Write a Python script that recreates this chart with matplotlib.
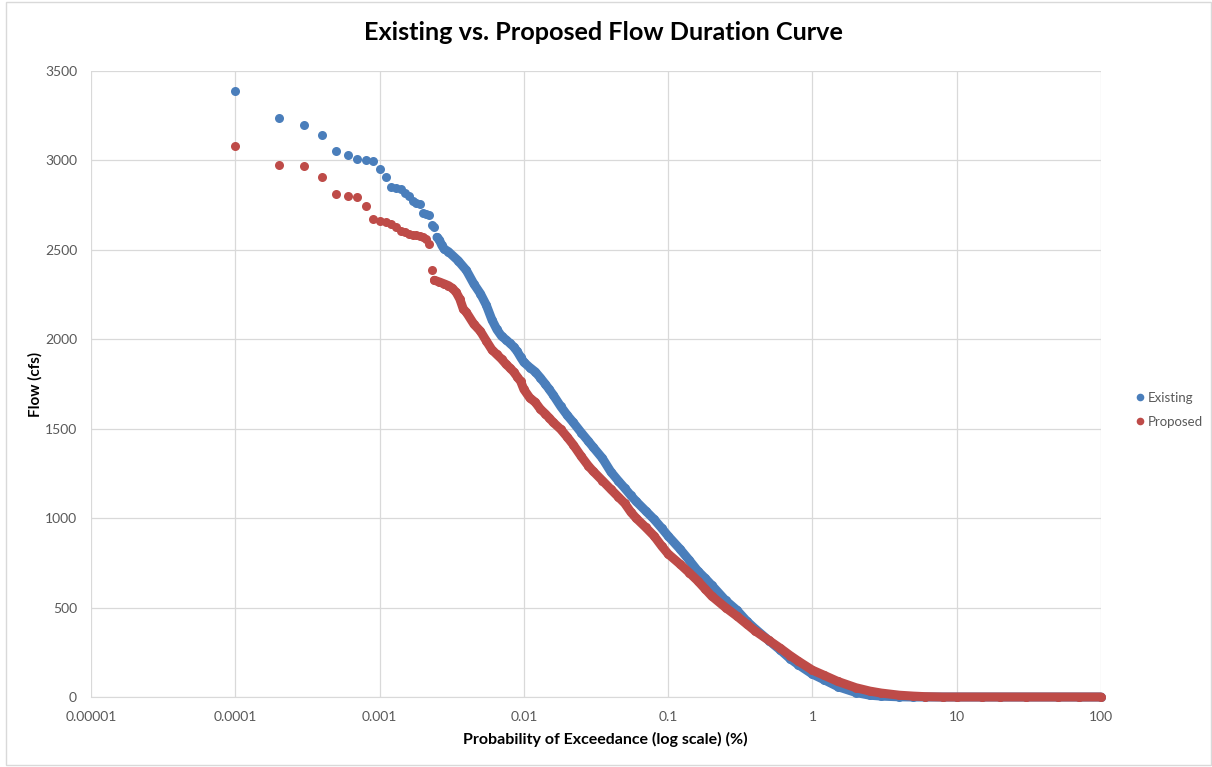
import matplotlib
matplotlib.use("Agg")
import matplotlib.pyplot as plt
from matplotlib.lines import Line2D
from matplotlib.patches import Rectangle
from matplotlib.ticker import FixedLocator, NullLocator

# ---------------- data ----------------
title = "Existing vs. Proposed Flow Duration Curve"
x_label = "Probability of Exceedance (log scale) (%)"
y_label = "Flow (cfs)"
series_names = ["Existing", "Proposed"]

x_ticks = [0.00001, 0.0001, 0.001, 0.01, 0.1, 1, 10, 100]
x_tick_labels = ["0.00001", "0.0001", "0.001", "0.01", "0.1", "1", "10", "100"]
y_ticks = [0, 500, 1000, 1500, 2000, 2500, 3000, 3500]
y_tick_labels = ["0", "500", "1000", "1500", "2000", "2500", "3000", "3500"]

# highest ranked (isolated) points
existing_peak_p = [0.0001, 0.0002, 0.0003, 0.0004, 0.0005, 0.0006, 0.0007, 0.0008,
                   0.0009, 0.0010, 0.0011, 0.0012, 0.0013, 0.0014, 0.0015, 0.0016,
                   0.0017, 0.0018, 0.0019, 0.0020, 0.0021, 0.0022, 0.0023, 0.0024]
existing_peak_flow = [3390, 3235, 3200, 3140, 3050, 3030, 3010, 3005,
                      2995, 2950, 2910, 2850, 2845, 2842, 2820, 2800,
                      2775, 2760, 2755, 2705, 2700, 2695, 2640, 2630]

proposed_peak_p = [0.0001, 0.0002, 0.0003, 0.0004, 0.0005, 0.0006, 0.0007, 0.0008,
                   0.0009, 0.0010, 0.0011, 0.0012, 0.0013, 0.0014, 0.0015, 0.0016,
                   0.0017, 0.0018, 0.0019, 0.0020, 0.0021, 0.0022, 0.0023]
proposed_peak_flow = [3080, 2975, 2970, 2910, 2815, 2800, 2795, 2745,
                      2675, 2660, 2655, 2645, 2625, 2605, 2598, 2590,
                      2585, 2582, 2578, 2570, 2560, 2530, 2385]

# dense part of the curves
existing_curve_p = [0.0025, 0.0026, 0.0027, 0.0028, 0.003, 0.0035, 0.004, 0.0045,
                    0.005, 0.0055, 0.006, 0.0065, 0.007, 0.0075, 0.008, 0.0085,
                    0.009, 0.0095, 0.01, 0.011, 0.012, 0.013, 0.014, 0.015, 0.016,
                    0.018, 0.02, 0.022, 0.025, 0.028, 0.03, 0.035, 0.04, 0.045,
                    0.05, 0.055, 0.06, 0.07, 0.08, 0.09, 0.1, 0.12, 0.14, 0.16,
                    0.18, 0.2, 0.25, 0.3, 0.35, 0.4, 0.5, 0.6, 0.7, 0.8, 1, 1.2,
                    1.5, 2, 2.5, 3, 4, 5, 6, 8, 10, 15, 20, 30, 50, 70, 100]
existing_curve_flow = [2570, 2555, 2525, 2505, 2490, 2440, 2385, 2310,
                       2255, 2190, 2110, 2055, 2018, 1998, 1978, 1958,
                       1932, 1900, 1872, 1842, 1818, 1785, 1752, 1720, 1688,
                       1625, 1575, 1535, 1478, 1430, 1400, 1335, 1260, 1210,
                       1168, 1128, 1094, 1040, 993, 945, 900, 830, 765, 706,
                       665, 626, 540, 485, 425, 382, 315, 262, 214, 180, 128, 97,
                       58, 25, 10, 5, 1, 0, 0, 0, 0, 0, 0, 0, 0, 0, 0]

proposed_curve_p = [0.0024, 0.0026, 0.0028, 0.003, 0.0032, 0.0034, 0.0036, 0.0038,
                    0.004, 0.0045, 0.005, 0.0055, 0.006, 0.0065, 0.007, 0.0075,
                    0.008, 0.0085, 0.009, 0.0095, 0.01, 0.011, 0.012, 0.013, 0.014,
                    0.015, 0.016, 0.018, 0.02, 0.022, 0.025, 0.028, 0.03, 0.035,
                    0.04, 0.045, 0.05, 0.055, 0.06, 0.07, 0.08, 0.09, 0.1, 0.12,
                    0.14, 0.16, 0.18, 0.2, 0.25, 0.3, 0.35, 0.4, 0.5, 0.6, 0.7,
                    0.8, 1, 1.2, 1.5, 2, 2.5, 3, 4, 5, 6, 8, 10, 15, 20, 30, 50,
                    70, 100]
proposed_curve_flow = [2330, 2320, 2310, 2300, 2285, 2262, 2225, 2170,
                       2150, 2085, 2045, 1990, 1942, 1915, 1890, 1862,
                       1840, 1818, 1790, 1765, 1720, 1672, 1648, 1610, 1585,
                       1560, 1535, 1497, 1453, 1410, 1345, 1292, 1265, 1210,
                       1162, 1120, 1083, 1035, 1000, 948, 900, 845, 800, 745,
                       695, 650, 605, 565, 500, 452, 408, 370, 316, 272, 232,
                       200, 150, 122, 87, 52, 33, 22, 10, 5, 2, 0, 0, 0, 0, 0, 0,
                       0, 0]

assert len(existing_peak_p) == len(existing_peak_flow)
assert len(proposed_peak_p) == len(proposed_peak_flow)
assert len(existing_curve_p) == len(existing_curve_flow)
assert len(proposed_curve_p) == len(proposed_curve_flow)

# ---------------- styling ----------------
blue = "#4A7EBB"
red = "#BE4B48"
grid_c = "#D9D9D9"
text_c = "#595959"
plt.rcParams["font.family"] = ["Lato", "DejaVu Sans"]

fig = plt.figure(figsize=(12.12, 7.67), dpi=100)
ax = fig.add_axes([91 / 1212, 1 - 697 / 767, (1101 - 91) / 1212, (697 - 71) / 767])

ms = 6.5  # marker diameter in points (~9 px)

def draw(peak_p, peak_f, curve_p, curve_f, color, z):
    ax.plot(peak_p, peak_f, linestyle="none", marker="o", ms=ms,
            mfc=color, mec=color, mew=0, zorder=z, clip_on=False)
    ax.plot(curve_p, curve_f, linestyle="-", lw=ms, color=color,
            solid_capstyle="round", solid_joinstyle="round",
            marker="o", ms=ms, mfc=color, mec=color, mew=0, zorder=z,
            clip_on=False)

draw(existing_peak_p, existing_peak_flow, existing_curve_p, existing_curve_flow, blue, 3)
draw(proposed_peak_p, proposed_peak_flow, proposed_curve_p, proposed_curve_flow, red, 4)

ax.set_xscale("log")
ax.set_xlim(x_ticks[0], x_ticks[-1])
ax.set_ylim(y_ticks[0], y_ticks[-1])
ax.xaxis.set_major_locator(FixedLocator(x_ticks))
ax.xaxis.set_minor_locator(NullLocator())
ax.set_xticklabels(x_tick_labels)
ax.set_yticks(y_ticks)
ax.set_yticklabels(y_tick_labels)

ax.grid(True, which="major", color=grid_c, lw=0.9, zorder=0)
ax.set_axisbelow(True)
for s in ["top", "right", "left"]:
    ax.spines[s].set_visible(False)
ax.spines["bottom"].set_color(grid_c)
ax.tick_params(axis="both", length=0, labelsize=10, colors=text_c)
ax.tick_params(axis="x", pad=10)
ax.tick_params(axis="y", pad=10)

ax.set_xlabel(x_label, fontsize=11.5, fontweight="bold", color="black")
ax.xaxis.set_label_coords(0.509, -(732 - 697) / 626)
ax.set_ylabel(y_label, fontsize=11, fontweight="bold", color="black")
ax.yaxis.set_label_coords(-(91 - 43) / 1010, 0.5)

fig.text(0.5 - 3 / 1212, 1 - 33 / 767, title, ha="center", va="center",
         fontsize=18.2, fontweight="bold", color="black")

handles = [Line2D([], [], linestyle="none", marker="o", ms=5.5, mfc=blue, mec=blue, mew=0),
           Line2D([], [], linestyle="none", marker="o", ms=5.5, mfc=red, mec=red, mew=0)]
fig.legend(handles, series_names, loc="center left",
           bbox_to_anchor=(1128 / 1212, 1 - 410 / 767), frameon=False,
           fontsize=9.5, labelcolor=text_c, handletextpad=0.1, handlelength=1.0,
           labelspacing=0.9, borderaxespad=0)

fig.patches.append(Rectangle((6 / 1212, 2 / 767), 1 - 7 / 1212, 1 - 4 / 767,
                             transform=fig.transFigure, fill=False,
                             edgecolor=grid_c, lw=1.0))

fig.savefig("out.png", dpi=100)
